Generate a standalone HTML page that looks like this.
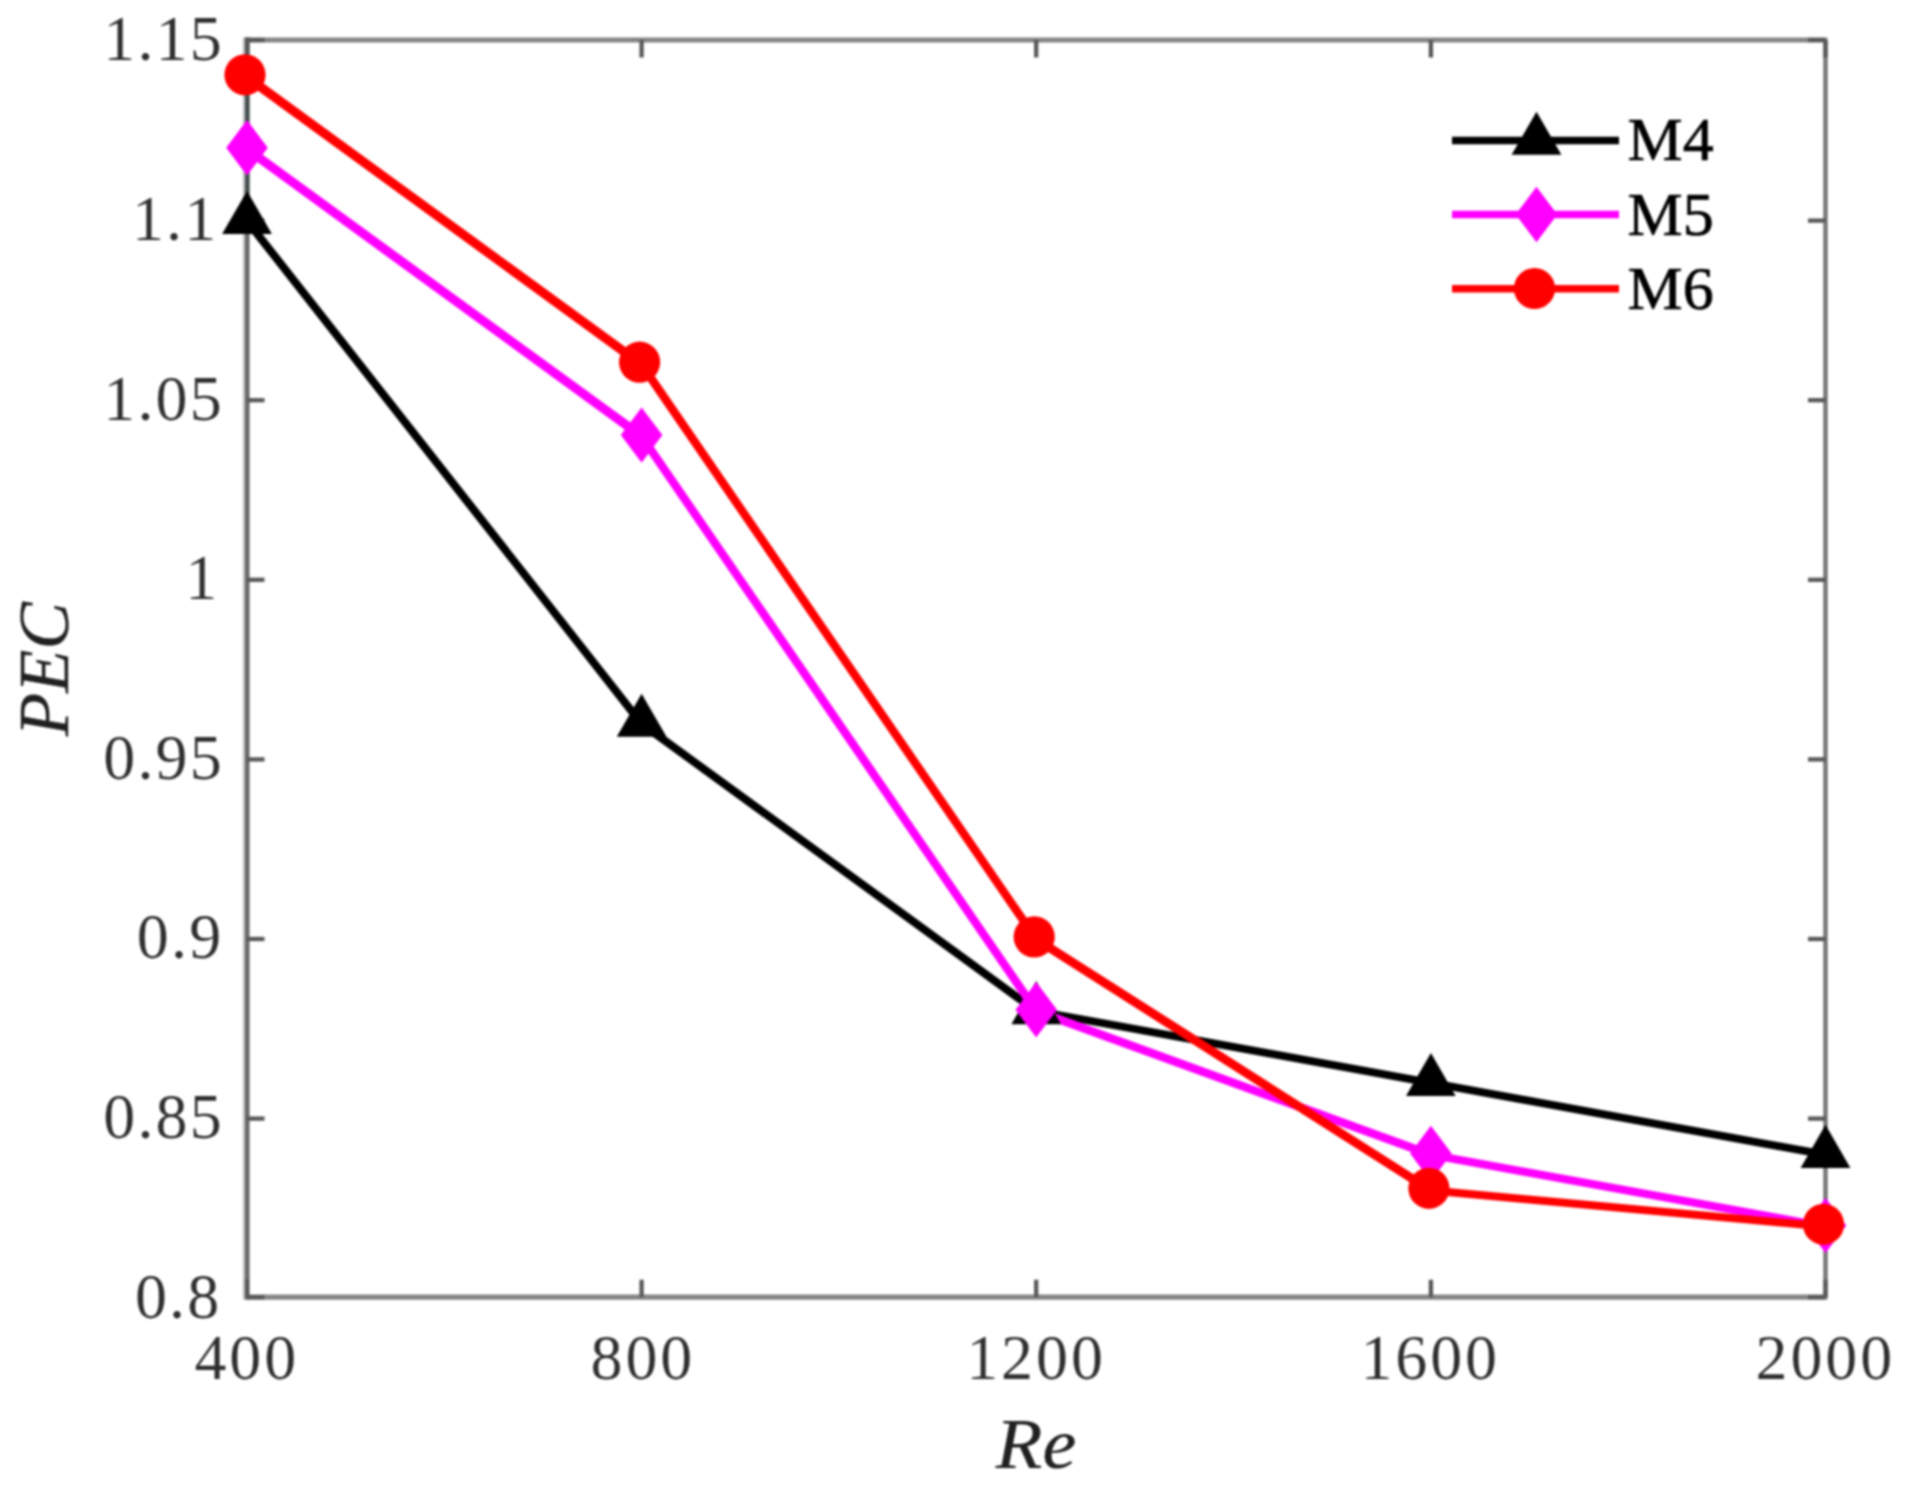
<!DOCTYPE html>
<html><head><meta charset="utf-8"><title>PEC vs Re</title>
<style>
html,body{margin:0;padding:0;background:#fff;}
body{width:1907px;height:1490px;overflow:hidden;}
svg{display:block;filter:blur(0.8px);}
text{font-family:"Liberation Serif","Times New Roman",serif;}
.tk{font-size:64px;fill:#2e2e2e;stroke:#fff;stroke-width:0.15px;}
.tx{letter-spacing:2.9px;}
.ty{letter-spacing:2.2px;}
.lb{font-size:71px;fill:#202020;font-style:italic;stroke:#202020;stroke-width:0.25px;}
.lg{font-size:62px;fill:#000;stroke:#000;stroke-width:0.7px;}
</style></head><body>
<svg width="1907" height="1490" viewBox="0 0 1907 1490">
<rect x="0" y="0" width="1907" height="1490" fill="#fff"/>
<g id="plot">
<g stroke="#858585" stroke-width="5.2" fill="none">
<line x1="247.1" y1="37.5" x2="247.1" y2="1299.7" stroke="#6a6a6a" stroke-width="5"/>
<line x1="247.1" y1="37.5" x2="247.1" y2="200" stroke="#465050" stroke-width="4.6"/>
<line x1="247.0" y1="1297.2" x2="1827.5" y2="1297.2"/>
<line x1="247.0" y1="40.0" x2="1827.5" y2="40.0"/>
<line x1="1825.5" y1="40.0" x2="1825.5" y2="1297.2" stroke-width="4.4" stroke="#747474"/>
<line x1="243.8" y1="37.7" x2="243.8" y2="1299.5" stroke="#c4c4c4" stroke-width="2"/>
</g>
<g stroke="#585858" stroke-width="4.3">
<line x1="247.0" y1="1297.2" x2="247.0" y2="1279.7"/>
<line x1="247.0" y1="40.0" x2="247.0" y2="57.5"/>
<line x1="641.6" y1="1297.2" x2="641.6" y2="1279.7"/>
<line x1="641.6" y1="40.0" x2="641.6" y2="57.5"/>
<line x1="1036.2" y1="1297.2" x2="1036.2" y2="1279.7"/>
<line x1="1036.2" y1="40.0" x2="1036.2" y2="57.5"/>
<line x1="1430.9" y1="1297.2" x2="1430.9" y2="1279.7"/>
<line x1="1430.9" y1="40.0" x2="1430.9" y2="57.5"/>
<line x1="1825.5" y1="1297.2" x2="1825.5" y2="1279.7"/>
<line x1="1825.5" y1="40.0" x2="1825.5" y2="57.5"/>
<line x1="247.0" y1="1297.2" x2="264.5" y2="1297.2"/>
<line x1="1825.5" y1="1297.2" x2="1808.0" y2="1297.2"/>
<line x1="247.0" y1="1118.6" x2="264.5" y2="1118.6"/>
<line x1="1825.5" y1="1118.6" x2="1808.0" y2="1118.6"/>
<line x1="247.0" y1="939.0" x2="264.5" y2="939.0"/>
<line x1="1825.5" y1="939.0" x2="1808.0" y2="939.0"/>
<line x1="247.0" y1="759.4" x2="264.5" y2="759.4"/>
<line x1="1825.5" y1="759.4" x2="1808.0" y2="759.4"/>
<line x1="247.0" y1="579.8" x2="264.5" y2="579.8"/>
<line x1="1825.5" y1="579.8" x2="1808.0" y2="579.8"/>
<line x1="247.0" y1="400.2" x2="264.5" y2="400.2"/>
<line x1="1825.5" y1="400.2" x2="1808.0" y2="400.2"/>
<line x1="247.0" y1="220.6" x2="264.5" y2="220.6"/>
<line x1="1825.5" y1="220.6" x2="1808.0" y2="220.6"/>
<line x1="247.0" y1="40.0" x2="264.5" y2="40.0"/>
<line x1="1825.5" y1="40.0" x2="1808.0" y2="40.0"/>
</g>
<g stroke="#000" stroke-linecap="round" fill="none">
<line x1="247.0" y1="220.8" x2="641.6" y2="723.7" stroke-width="8.0"/>
<line x1="641.6" y1="723.7" x2="1036.2" y2="1011.0" stroke-width="8.0"/>
<line x1="1036.2" y1="1011.0" x2="1430.9" y2="1082.9" stroke-width="7.8"/>
<line x1="1430.9" y1="1082.9" x2="1825.5" y2="1154.7" stroke-width="7.8"/>
</g>
<g stroke="#f0f" stroke-linecap="round" fill="none">
<line x1="247.0" y1="149.0" x2="641.6" y2="436.3" stroke-width="9.2"/>
<line x1="641.6" y1="436.3" x2="1036.2" y2="1011.0" stroke-width="8.4"/>
<line x1="1036.2" y1="1011.0" x2="1430.9" y2="1154.7" stroke-width="8.5"/>
<line x1="1430.9" y1="1154.7" x2="1825.5" y2="1226.6" stroke-width="8.0"/>
</g>
<g stroke="#f00" stroke-linecap="round" fill="none">
<line x1="247.0" y1="77.1" x2="641.6" y2="364.5" stroke-width="9.2"/>
<line x1="641.6" y1="364.5" x2="1036.2" y2="939.2" stroke-width="8.4"/>
<line x1="1036.2" y1="939.2" x2="1430.9" y2="1190.6" stroke-width="8.9"/>
<line x1="1430.9" y1="1190.6" x2="1825.5" y2="1226.6" stroke-width="8.0"/>
</g>
<polygon points="247.0,190.9 271.9,233.9 222.1,233.9" fill="#000"/>
<polygon points="641.6,693.8 666.5,736.8 616.8,736.8" fill="#000"/>
<polygon points="1036.2,981.1 1061.1,1024.2 1011.4,1024.2" fill="#000"/>
<polygon points="1430.9,1053.0 1455.7,1096.0 1406.0,1096.0" fill="#000"/>
<polygon points="1825.5,1124.8 1850.4,1167.9 1800.6,1167.9" fill="#000"/>
<polygon points="247.0,120.1 267.8,147.8 247.0,175.5 226.2,147.8" fill="#f0f"/>
<polygon points="641.6,407.4 662.4,435.1 641.6,462.8 620.8,435.1" fill="#f0f"/>
<polygon points="1036.2,982.1 1057.0,1009.8 1036.2,1037.5 1015.5,1009.8" fill="#f0f"/>
<polygon points="1430.9,1125.8 1451.7,1153.5 1430.9,1181.2 1410.1,1153.5" fill="#f0f"/>
<polygon points="1825.5,1197.7 1846.3,1225.4 1825.5,1253.1 1804.7,1225.4" fill="#f0f"/>
<circle cx="245.0" cy="74.8" r="20.6" fill="#f00"/>
<circle cx="639.6" cy="362.2" r="20.6" fill="#f00"/>
<circle cx="1034.2" cy="936.9" r="20.6" fill="#f00"/>
<circle cx="1428.9" cy="1188.3" r="20.6" fill="#f00"/>
<circle cx="1823.5" cy="1224.3" r="20.6" fill="#f00"/>
</g>
<g class="tk tx" text-anchor="middle">
<text x="246.8" y="1378.7">400</text>
<text x="642.9" y="1378.7">800</text>
<text x="1036.0" y="1378.7">1200</text>
<text x="1430.2" y="1378.7">1600</text>
<text x="1825.3" y="1378.7">2000</text>
</g>
<g class="tk ty" text-anchor="end">
<text x="221.5" y="1317.5">0.8</text>
<text x="224" y="1137.9">0.85</text>
<text x="223.4" y="958.3">0.9</text>
<text x="224" y="778.7">0.95</text>
<text x="219.5" y="599.1">1</text>
<text x="224" y="419.5">1.05</text>
<text x="218.5" y="239.9">1.1</text>
<text x="224" y="60.3">1.15</text>
</g>
<text class="lb" text-anchor="middle" transform="translate(1036,1467.5) scale(1.075,1)">Re</text>
<text class="lb" text-anchor="middle" transform="translate(68,669.3) rotate(-90)">PEC</text>
<g id="legend">
<line x1="1452" y1="140.5" x2="1619" y2="140.5" stroke="#000" stroke-width="7.6"/>
<polygon points="1536.5,111.8 1561.4,154.8 1511.6,154.8" fill="#000"/>
<text class="lg" x="1627.5" y="159.8">M4</text>
<line x1="1452" y1="214.5" x2="1619" y2="214.5" stroke="#f0f" stroke-width="7.6"/>
<polygon points="1536.5,186.8 1557.3,214.5 1536.5,242.2 1515.7,214.5" fill="#f0f"/>
<text class="lg" x="1627.5" y="235.2">M5</text>
<line x1="1452" y1="288.8" x2="1619" y2="288.8" stroke="#f00" stroke-width="7.6"/>
<circle cx="1534.5" cy="288.5" r="20.6" fill="#f00"/>
<text class="lg" x="1627.5" y="308.6">M6</text>
</g>
</svg></body></html>
